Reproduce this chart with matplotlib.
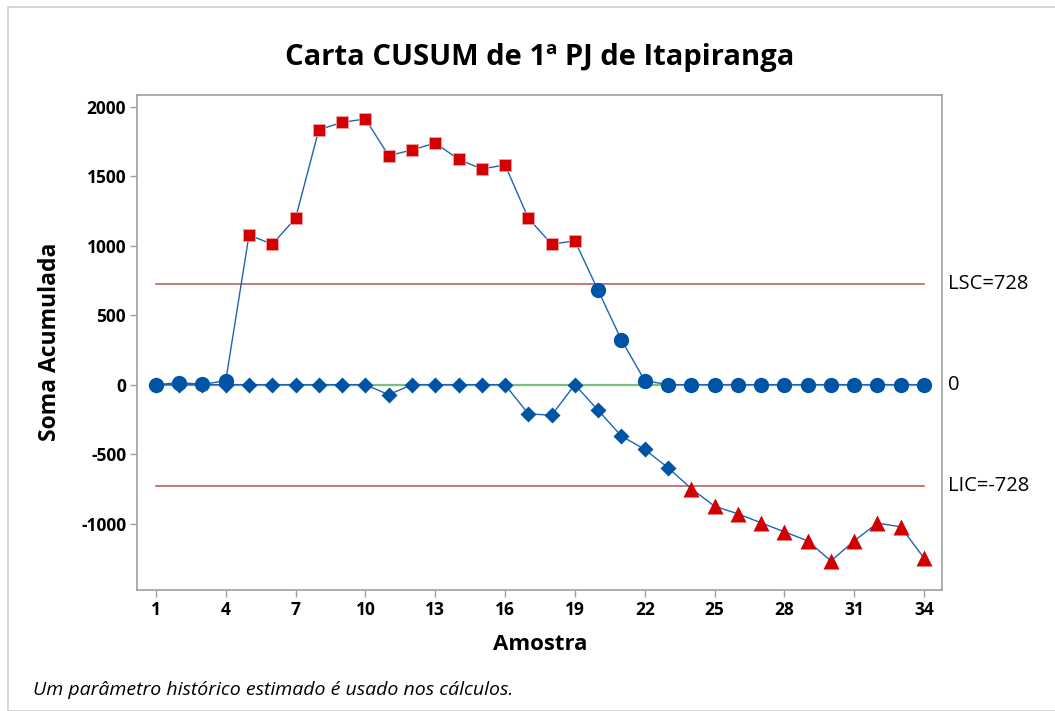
import numpy as np
import matplotlib
matplotlib.use("Agg")
import matplotlib.pyplot as plt
from matplotlib.patches import Rectangle

plt.rcParams['font.family'] = ['Open Sans', 'DejaVu Sans']
plt.rcParams['axes.unicode_minus'] = False

# dados da carta CUSUM
amostra = np.arange(1, 35)
cusum_sup = [0, 15, 3, 28, 1078, 1012, 1199, 1837, 1890, 1914,
             1650, 1691, 1741, 1624, 1554, 1583, 1199, 1012, 1036, 679,
             322, 30, 0, 0, 0, 0, 0, 0, 0, 0,
             0, 0, 0, 0]
cusum_inf = [0, 0, 0, 0, 0, 0, 0, 0, 0, 0,
             -72, 0, 0, 0, 0, 0, -210, -220, 0, -185,
             -370, -466, -598, -748, -875, -930, -995, -1060, -1125, -1270,
             -1125, -997, -1024, -1249]
lsc = 728
lic = -728
centro = 0
yticks = [-1000, -500, 0, 500, 1000, 1500, 2000]
xticks = list(range(1, 35, 3))

W, H = 1055, 711
fig = plt.figure(figsize=(W / 100, H / 100), dpi=100)

# moldura da figura
fig.patches.append(Rectangle((8 / W, 0), 1.2, 1 - 7 / H, transform=fig.transFigure,
                             fill=False, edgecolor='#d0d0d0', linewidth=1.2))

ax = fig.add_axes([137.3 / W, 1 - 590 / H, (941.7 - 137.3) / W, (590 - 94.7) / H])

azul = '#0054a6'
vermelho = '#d20000'
cinza = '#a0a0a0'

sup = np.array(cusum_sup)
inf = np.array(cusum_inf)

# linhas de limite e linha central
ax.plot([amostra[0], amostra[-1]], [lsc, lsc], color='#b05555', lw=1.1, zorder=1)
ax.plot([amostra[0], amostra[-1]], [lic, lic], color='#b05555', lw=1.1, zorder=1)
ax.plot([amostra[0], amostra[-1]], [centro, centro], color='#7cbf7c', lw=1.6, zorder=1)

# CUSUM superior
ax.plot(amostra, sup, color='#1f64b4', lw=1.0, zorder=2)
ok = sup <= lsc
ax.plot(amostra[ok], sup[ok], 'o', color=azul, ms=11, mec='none', zorder=3)
ax.plot(amostra[~ok], sup[~ok], 's', color=vermelho, ms=9.3, mec='#f0a0a0', mew=0.6, zorder=3)

# CUSUM inferior
ax.plot(amostra, inf, color='#1f64b4', lw=1.0, zorder=4)
ok = inf >= lic
ax.plot(amostra[ok], inf[ok], 'D', color=azul, ms=8, mec='none', zorder=5)
ax.plot(amostra[~ok], inf[~ok], '^', color=vermelho, ms=11, mec='none', zorder=5)

ax.set_xlim(0.2, 34.76)
ax.set_ylim(-1479, 2089)
ax.set_xticks(xticks)
ax.set_yticks(yticks)
ax.tick_params(length=5, width=1, color=cinza, labelsize=12.5, pad=3)
for lb in ax.get_xticklabels() + ax.get_yticklabels():
    lb.set_fontweight('bold')
for s in ax.spines.values():
    s.set_color(cinza)
    s.set_linewidth(1.2)

# rotulos dos limites
x_rot = 948 / W
fig.text(x_rot, 1 - 284 / H, f'LSC={lsc}', fontsize=14.5, va='center', ha='left')
fig.text(x_rot, 1 - 385 / H, f'{centro}', fontsize=14.5, va='center', ha='left')
fig.text(x_rot, 1 - 486 / H, f'LIC={lic}', fontsize=14.5, va='center', ha='left')

fig.text(540 / W, 1 - 57 / H, 'Carta CUSUM de 1ª PJ de Itapiranga',
         fontsize=21, fontweight='bold', ha='center', va='center')
fig.text(540 / W, 1 - 645 / H, 'Amostra', fontsize=16, fontweight='bold',
         ha='center', va='center')
fig.text(50 / W, 1 - 342 / H, 'Soma Acumulada', fontsize=16.5, fontweight='bold',
         ha='center', va='center', rotation=90)
fig.text(33 / W, 1 - 690 / H, 'Um parâmetro histórico estimado é usado nos cálculos.',
         fontsize=14, style='italic', ha='left', va='center')

fig.savefig('out.png', dpi=100)
